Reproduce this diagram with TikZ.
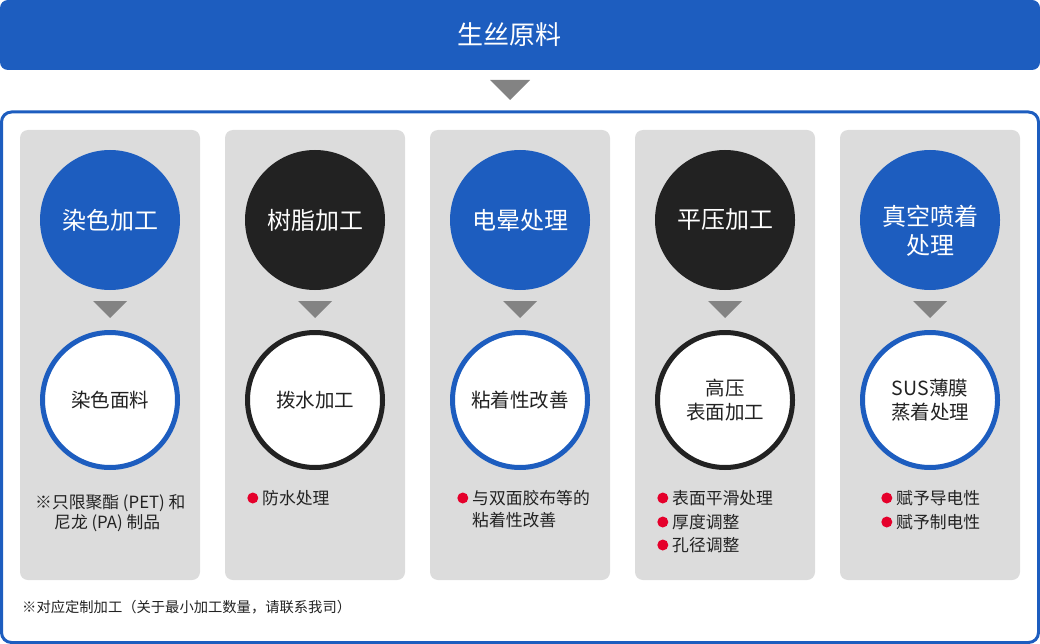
\documentclass[tikz,border=0pt]{standalone}
\usepackage{fontspec}
\setmainfont{Noto Sans CJK SC}
\usetikzlibrary{positioning}
\definecolor{silkblue}{HTML}{1D5DBF}
\definecolor{inkdark}{HTML}{222222}
\definecolor{colgray}{HTML}{DCDCDC}
\definecolor{markgray}{HTML}{838383}
\definecolor{dotred}{HTML}{E5002B}
\begin{document}
\begin{tikzpicture}[x=1pt, y=-1pt,
    banner/.style={rectangle, fill=silkblue, rounded corners=8pt, minimum width=1040pt, minimum height=70pt},
    banner text/.style={text=white, font=\fontsize{26}{30}\selectfont},
    top node/.style={circle, minimum size=140pt, inner sep=0pt},
    top text/.style={text=white, align=center, inner sep=0pt, font=\fontsize{24}{28.5}\selectfont},
    ring node/.style={circle, draw, line width=5pt, fill=white, minimum size=135pt, inner sep=0pt, align=center, text=inkdark, font=\fontsize{19.5}{24}\selectfont},
    column/.style={fill=colgray, rounded corners=8pt},
    marker/.style={fill=markgray},
    item/.style={anchor=west, inner sep=0pt, text=inkdark, font=\fontsize{16.8}{23}\selectfont,
      label={[circle, fill=dotred, minimum size=11pt, inner sep=0pt, label distance=3.5pt]left:{}}},
    plain item/.style={anchor=west, inner sep=0pt, text=inkdark, font=\fontsize{16.8}{23}\selectfont}]
  \useasboundingbox (0,0) rectangle (1040,644);

  % raw material on top
  \node[banner] (raw) at (520,35) {};
  \node[banner text] (rawtext) at (509,35) {生丝原料};
  \fill[marker] (490,80) -- (530,80) -- (510,100) -- cycle;
  \draw[silkblue, line width=3pt, rounded corners=10pt] (1.5,112) rectangle (1038.5,642.5);

  % the five processes
  \foreach \n/\xc/\tone/\dy/\ttext/\rtext in {
      1/110/silkblue/0/染色加工/染色面料,
      2/315/inkdark/0/树脂加工/拨水加工,
      3/520/silkblue/0/电晕处理/粘着性改善,
      4/725/inkdark/0/平压加工/{高压\\表面加工},
      5/930/silkblue/11/{真空喷着\\处理}/{SUS薄膜\\蒸着处理}} {
    \fill[column] (\xc-90,130) rectangle (\xc+90,580);
    \node[top node, fill=\tone] (top\n) at (\xc,220) {};
    \node[top text] (title\n) at (\xc,220+\dy) {\ttext};
    \fill[marker] (\xc-17,301) -- (\xc+17,301) -- (\xc,318) -- cycle;
    \node[ring node, draw=\tone] (ring\n) at (\xc,400) {\rtext};
  }

  % notes under the rings
  \node[plain item] (note1a) at (35,503) {※只限聚酯 (PET) 和};
  \node[plain item] (note1b) at (54,523) {尼龙 (PA) 制品};
  \node[item] (note2a) at (262,498) {防水处理};
  \node[item] (note3a) at (472,498) {与双面胶布等的};
  \node[plain item] (note3b) at (472,520) {粘着性改善};
  \node[item] (note4a) at (672,498) {表面平滑处理};
  \node[item] (note4b) at (672,522) {厚度调整};
  \node[item] (note4c) at (672,545) {孔径调整};
  \node[item] (note5a) at (896,498) {赋予导电性};
  \node[item] (note5b) at (896,522) {赋予制电性};

  \node[plain item, font=\fontsize{14.3}{17}\selectfont] (custom) at (22,607) {※对应定制加工（关于最小加工数量，请联系我司）};
\end{tikzpicture}
\end{document}
